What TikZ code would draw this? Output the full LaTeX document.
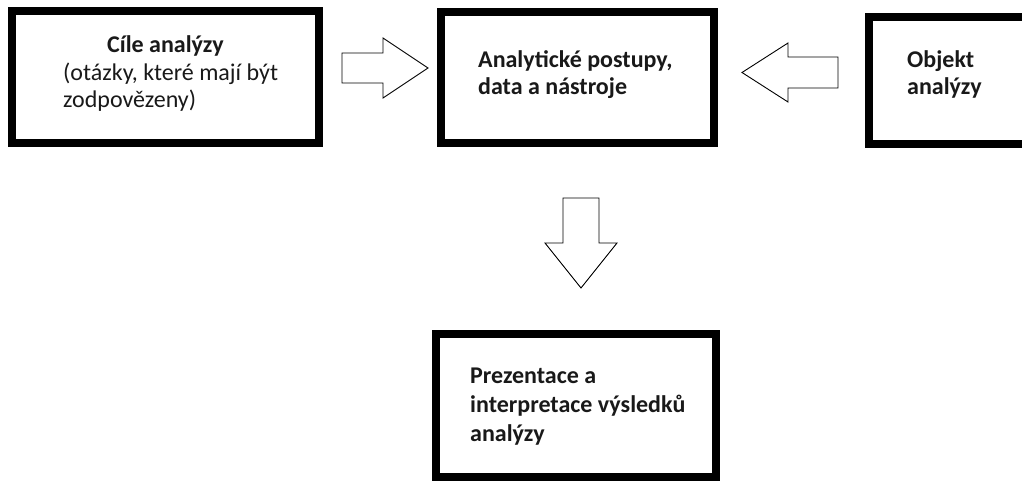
\documentclass[tikz,border=0pt]{standalone}
\usepackage{fontspec}
\setmainfont{Carlito}
\begin{document}
\begin{tikzpicture}[x=1pt,y=-1pt,
  frame/.style={draw=black, line width=8pt, fill=white, inner sep=0pt, outer sep=0pt},
  blockarrow/.style={draw=black, line width=0.9pt, fill=white, line join=miter},
  lbl/.style={anchor=base west, inner sep=0pt, text=black!90, font=\fontsize{24}{29}\selectfont},
  lblb/.style={anchor=base west, inner sep=0pt, text=black!90, font=\fontsize{24}{29}\selectfont\bfseries}]
\useasboundingbox[fill=white] (0,0) rectangle (1022,481);
\clip (0,0) rectangle (1022,481);

% boxes
\node[frame, minimum width=307pt, minimum height=132pt] (cile) at (165.5,77) {};
\node[frame, minimum width=273pt, minimum height=131pt] (postupy) at (577.5,77.5) {};
\node[frame, minimum width=161pt, minimum height=127pt] (objekt) at (949.5,80.5) {};
\node[frame, minimum width=280pt, minimum height=143pt] (prezentace) at (576,405.5) {};

% labels
\node[lblb] (cileA) at (107,53) {Cíle analýzy};
\node[lbl]  (cileB) at (63,81) {(otázky, které mají být};
\node[lbl]  (cileC) at (63,108) {zodpovězeny)};

\node[lblb] (postA) at (478,68) {Analytické postupy,};
\node[lblb] (postB) at (478,95) {data a nástroje};

\node[lblb] (objA) at (907,68) {Objekt};
\node[lblb] (objB) at (907,95) {analýzy};

\node[lblb] (prezA) at (470,383.5) {Prezentace a};
\node[lblb] (prezB) at (470,412.5) {interpretace výsledků};
\node[lblb] (prezC) at (470,441.5) {analýzy};

% block arrows between the boxes
\coordinate (rTail) at (342,68);
\draw[blockarrow] (rTail) ++(0,-15) -- ++(41,0) -- ++(0,-15) -- ++(45,30)
  -- ++(-45,30) -- ++(0,-15) -- ++(-41,0) -- cycle;

\coordinate (lTail) at (838,72.5);
\draw[blockarrow] (lTail) ++(0,-15.5) -- ++(-50,0) -- ++(0,-14) -- ++(-46,29.5)
  -- ++(46,29.5) -- ++(0,-14) -- ++(50,0) -- cycle;

\coordinate (dTail) at (580,198);
\draw[blockarrow] (dTail) ++(-17,0) -- ++(0,45) -- ++(-18,0) -- ++(36,45)
  -- ++(36,-45) -- ++(-18,0) -- ++(0,-45) -- cycle;
\end{tikzpicture}
\end{document}
